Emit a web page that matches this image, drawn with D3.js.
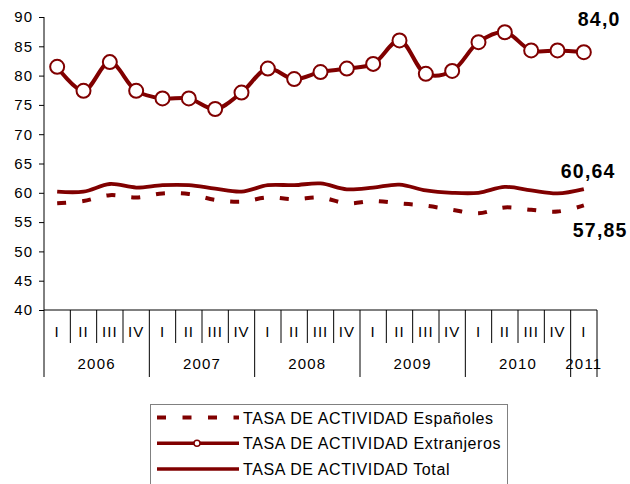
<!DOCTYPE html>
<html>
<head>
<meta charset="utf-8">
<script src="https://cdn.jsdelivr.net/npm/d3@7"></script>
<style>
  body { margin: 0; background: #fff; }
  svg { display: block; font-family: "Liberation Sans", Arial, sans-serif; }
</style>
</head>
<body>
<svg id="chart"></svg>
<script>
// data
const quarters = ["I","II","III","IV","I","II","III","IV","I","II","III","IV",
                  "I","II","III","IV","I","II","III","IV","I"];
const years = ["2006","2007","2008","2009","2010","2011"];
const espanoles   = [58.2,58.6,59.6,59.2,59.9,59.8,58.8,58.5,59.2,58.9,59.2,58.2,
                     58.6,58.2,57.8,57.1,56.5,57.5,57.1,56.8,57.85];
const extranjeros = [81.5,77.4,82.3,77.4,76.1,76.1,74.3,77.1,81.2,79.4,80.6,81.2,
                     82.0,86.0,80.3,80.8,85.7,87.4,84.3,84.3,84.0];
const total       = [60.2,60.2,61.5,60.9,61.3,61.3,60.7,60.2,61.3,61.3,61.6,60.6,
                     60.9,61.4,60.4,60.0,60.0,61.0,60.4,59.9,60.64];
const endLabels = ["57,85","84,0","60,64"];
const legendNames = ["TASA DE ACTIVIDAD Españoles","TASA DE ACTIVIDAD Extranjeros","TASA DE ACTIVIDAD Total"];

const width = 630, height = 484;
const color = "#800000";
const plotLeft = 44, plotRight = 597, plotTop = 17, plotBottom = 310;

const svg = d3.select("#chart").attr("width", width).attr("height", height);

const keys = quarters.map((q, i) => i);
const x = d3.scaleBand().domain(keys).range([plotLeft, plotRight]).padding(0);
const y = d3.scaleLinear().domain([40, 90]).range([plotBottom, plotTop]);
const cx = i => x(i) + x.bandwidth() / 2;

// y axis
const yAxis = d3.axisLeft(y).tickValues(d3.range(40, 91, 5)).tickSize(5).tickPadding(6);
const gy = svg.append("g").attr("transform", `translate(${plotLeft},0)`).call(yAxis);
gy.select(".domain").attr("stroke", "#000").attr("d", `M0,${plotTop}V${plotBottom}`);
gy.selectAll("text").attr("font-size", 15).attr("letter-spacing", 1).attr("fill", "#000");

// x axis: quarter and year rows
const gx = svg.append("g");
gx.append("line").attr("x1", plotLeft).attr("x2", plotRight).attr("y1", plotBottom).attr("y2", plotBottom).attr("stroke", "#000");
keys.concat([keys.length]).forEach(i => {
  const xx = i < keys.length ? x(i) : plotRight;
  const isYear = i % 4 === 0 || i === keys.length;
  gx.append("line").attr("x1", xx).attr("x2", xx)
    .attr("y1", plotBottom).attr("y2", isYear ? 377 : 343)
    .attr("stroke", "#000");
});
gx.selectAll(".q").data(quarters).enter().append("text")
  .attr("x", (d, i) => cx(i)).attr("y", 337)
  .attr("text-anchor", "middle").attr("font-size", 15).attr("letter-spacing", 1).text(d => d);
gx.selectAll(".yr").data(years).enter().append("text")
  .attr("x", (d, i) => {
    const a = i * 4, b = Math.min(a + 4, keys.length);
    return (x(a) + (b < keys.length ? x(b) : plotRight)) / 2;
  })
  .attr("y", 369).attr("text-anchor", "middle").attr("font-size", 15).attr("letter-spacing", 1.2).text(d => d);

// lines
const line = d3.line().x((d, i) => cx(i)).y(d => y(d)).curve(d3.curveCatmullRom.alpha(0.5));

svg.append("path").datum(total).attr("d", line)
  .attr("fill", "none").attr("stroke", color).attr("stroke-width", 3.8);
svg.append("path").datum(espanoles).attr("d", line)
  .attr("fill", "none").attr("stroke", color).attr("stroke-width", 4)
  .attr("stroke-dasharray", "9,16");
svg.append("path").datum(extranjeros).attr("d", line)
  .attr("fill", "none").attr("stroke", color).attr("stroke-width", 4);
svg.selectAll(".dot").data(extranjeros).enter().append("circle")
  .attr("cx", (d, i) => cx(i)).attr("cy", d => y(d)).attr("r", 7)
  .attr("fill", "#fff").attr("stroke", color).attr("stroke-width", 2);

// end labels
const last = keys.length - 1;
const labelPos = [
  { v: espanoles[last], dx: -11, dy: 32 },
  { v: extranjeros[last], dx: -6, dy: -26 },
  { v: total[last], dx: -23, dy: -11 }
];
labelPos.forEach((p, k) => {
  svg.append("text").attr("x", cx(last) + p.dx).attr("y", y(p.v) + p.dy)
    .attr("font-size", 19.5).attr("font-weight", "bold").attr("letter-spacing", 1.2).text(endLabels[k]);
});

// legend
const lg = svg.append("g");
lg.append("rect").attr("x", 150.5).attr("y", 404.5).attr("width", 357).attr("height", 100)
  .attr("fill", "#fff").attr("stroke", "#808080");
legendNames.forEach((name, k) => {
  const yy = 417.5 + k * 25.7;
  const ln = lg.append("line").attr("x1", 157).attr("x2", 239).attr("y1", yy).attr("y2", yy)
    .attr("stroke", color).attr("stroke-width", k === 0 ? 4 : 3.5);
  if (k === 0) ln.attr("stroke-dasharray", "9,16.5");
  if (k === 1) lg.append("circle").attr("cx", 197).attr("cy", yy).attr("r", 3)
    .attr("fill", "#fff").attr("stroke", color).attr("stroke-width", 1.5);
  lg.append("text").attr("x", 243).attr("y", yy + 6).attr("font-size", 16)
    .attr("letter-spacing", 0.6).text(name);
});
</script>
</body>
</html>
